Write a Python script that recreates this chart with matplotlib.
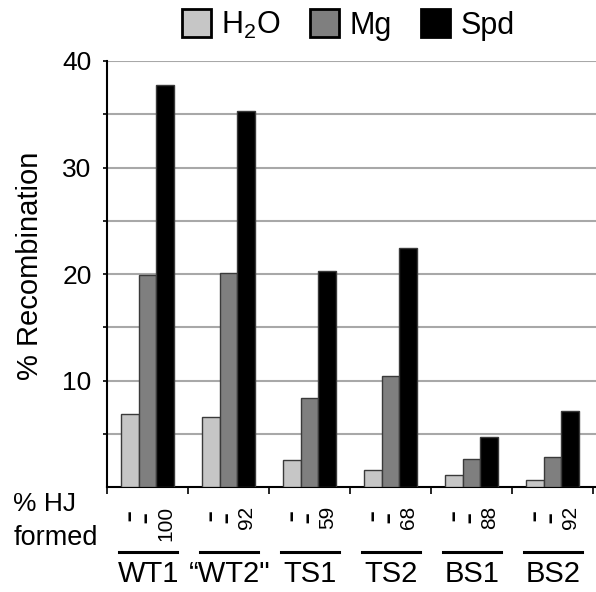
import numpy as np
import matplotlib
matplotlib.use("Agg")
import matplotlib.pyplot as plt
import matplotlib.transforms as mtransforms
from matplotlib.patches import Patch

plt.rcParams['font.family'] = ['Liberation Sans', 'DejaVu Sans']
plt.rcParams['mathtext.default'] = 'regular'

# data
groups = ['WT1', '\u201cWT2"', 'TS1', 'TS2', 'BS1', 'BS2']
h2o = [6.9, 6.6, 2.5, 1.6, 1.1, 0.7]
mg = [19.95, 20.1, 8.4, 10.4, 2.6, 2.85]
spd = [37.7, 35.3, 20.3, 22.4, 4.7, 7.15]
hj_formed = ['100', '92', '59', '68', '88', '92']
series = [('H$_2$O', h2o, '#c6c6c6'), ('Mg', mg, '#7f7f7f'), ('Spd', spd, '#000000')]

fig = plt.figure(figsize=(5.96, 5.92), dpi=100)
ax = fig.add_axes([107/596, 1 - 487/592, 1 - 107/596, 426/592])

x = np.arange(len(groups)) + 0.5
w = 0.217
for k, (name, vals, col) in enumerate(series):
    ax.bar(x + (k - 1) * w, vals, width=w, color=col, edgecolor='#3a3a3a',
           linewidth=1.0, zorder=3)

ax.set_ylim(0, 40)
ax.set_xlim(0, 6 * (596 - 107) / 486)
ax.set_yticks([10, 20, 30, 40])
ax.set_yticks([5, 15, 25, 35], minor=True)
ax.set_xticks(range(7))
ax.set_xticklabels([])
ax.grid(axis='y', which='both', color='#a8a8a8', linewidth=1.5, zorder=0)
ax.tick_params(axis='y', which='both', direction='out', length=3, width=1.2,
               labelsize=19, pad=8)
ax.tick_params(axis='x', direction='out', length=5, width=1.2)
for s in ['top', 'right']:
    ax.spines[s].set_visible(False)
for s in ['left', 'bottom']:
    ax.spines[s].set_linewidth(1.5)
ax.set_ylabel('% Recombination', fontsize=21)
ax.yaxis.set_label_coords(-63/489, (487 - 266) / 426)

# lower annotations
tr = mtransforms.blended_transform_factory(ax.transData, fig.transFigure)
for i, g in enumerate(groups):
    ax.text(x[i] - w * 1.05, 1 - 509/592, '-', rotation=90, ha='center', va='top',
            fontsize=27, transform=tr)
    ax.text(x[i] - w * 0.1, 1 - 511/592, '-', rotation=90, ha='center', va='top',
            fontsize=27, transform=tr)
    ax.text(x[i] + w * 1.05, 1 - 506/592, hj_formed[i], rotation=90, ha='center',
            va='top', fontsize=15, transform=tr)
    ax.plot([i + 0.15, i + 0.87], [1 - 552/592] * 2, color='black', lw=2.2,
            transform=tr, clip_on=False)
    ax.text(x[i] + 0.01, 1 - 582/592, g, ha='center', va='baseline',
            fontsize=21, transform=tr)

fig.text(13/596, 1 - 504/592, '% HJ', fontsize=19, va='center', ha='left')
fig.text(14/596, 1 - 538/592, 'formed', fontsize=19.5, va='center', ha='left')

handles = [Patch(facecolor=c, edgecolor='black', linewidth=2, label=n)
           for n, v, c in series]
fig.legend(handles=handles, loc='center', bbox_to_anchor=(348/596, 1 - 25/592),
           ncol=3, frameon=False, fontsize=22, handlelength=0.95,
           handleheight=1.0, handletextpad=0.35, columnspacing=0.95, borderpad=0)

fig.savefig('out.png', dpi=100)
